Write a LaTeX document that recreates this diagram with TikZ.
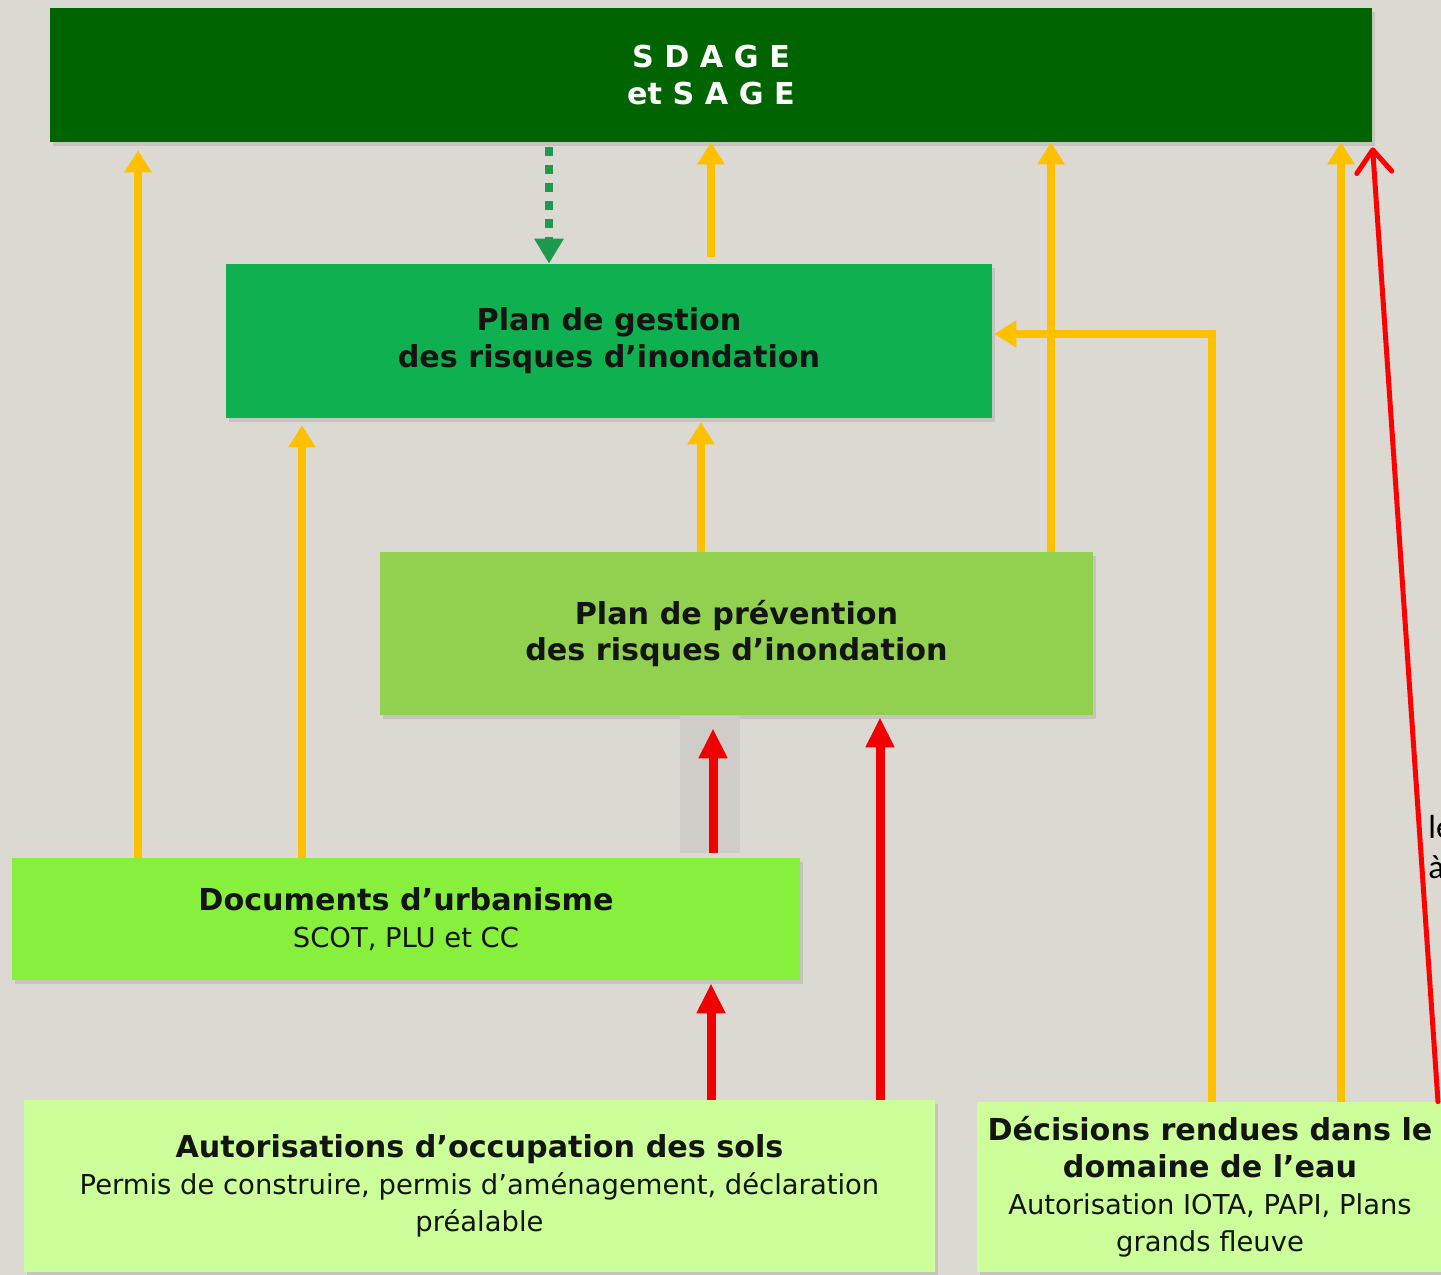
\documentclass[tikz,border=0pt]{standalone}
\usepackage{fontspec}
\setmainfont{DejaVu Sans}
\newfontfamily\calfont{Carlito}
\usetikzlibrary{arrows.meta,shadows}
\definecolor{bg}{HTML}{DCD8D2}
\definecolor{patchgray}{HTML}{D0CDC9}
\definecolor{sdagegreen}{HTML}{006400}
\definecolor{pgrigreen}{HTML}{0FB050}
\definecolor{pprigreen}{HTML}{92D050}
\definecolor{docgreen}{HTML}{86F03C}
\definecolor{lightlime}{HTML}{CCFF99}
\definecolor{arrorange}{HTML}{FFC000}
\definecolor{arrred}{HTML}{F00000}
\definecolor{dashgreen}{HTML}{1E9A4E}
\definecolor{txt}{HTML}{141414}
\begin{document}
\begin{tikzpicture}[x=0.02cm,y=-0.02cm,
  box/.style={rectangle, inner sep=0pt, align=center, text=txt,
    font={\fontsize{17.2}{21}\selectfont},
    drop shadow={opacity=0.22,shadow xshift=1.5pt,shadow yshift=-2pt}},
  oarrow/.style={draw=arrorange, line width=0.16cm, -{Triangle[length=0.44cm,width=0.52cm]}},
  rarrow/.style={draw=arrred, line width=0.18cm, -{Triangle[length=0.6cm,width=0.54cm]}},
  garrow/.style={draw=dashgreen, line width=0.16cm, dash pattern=on 0.18cm off 0.18cm, -{Triangle[length=0.5cm,width=0.56cm]}},
  thinred/.style={draw=red, line width=0.1cm, line cap=round, -{Straight Barb[length=0.45cm,width=0.7cm,round]}}]
\useasboundingbox (0,0) rectangle (1441,1275);
\clip (0,0) rectangle (1441,1275);
\fill[bg] (0,0) rectangle (1441,1275);

% boxes
\node[box, fill=sdagegreen, text=white, minimum width=26.44cm, minimum height=2.68cm,
  font={\fontsize{17.2}{21}\selectfont\bfseries}] (sdage) at (711,75)
  {\addfontfeatures{LetterSpace=35}SDAGE\\et {\addfontfeatures{LetterSpace=35}SAGE}};
\node[box, fill=pgrigreen, minimum width=15.32cm, minimum height=3.08cm] (pgri) at (609,341)
  {\bfseries Plan de gestion\\\bfseries des risques d’inondation};
\node[box, fill=pprigreen, minimum width=14.26cm, minimum height=3.26cm] (ppri) at (736.5,633.5)
  {\bfseries Plan de prévention\\\bfseries des risques d’inondation};
\node[box, fill=docgreen, minimum width=15.76cm, minimum height=2.44cm] (doc) at (406,919)
  {\bfseries Documents d’urbanisme\\{\fontsize{15.6}{21}\selectfont SCOT, PLU et CC}};
\node[box, fill=lightlime, minimum width=18.22cm, minimum height=3.44cm] (aut) at (479.5,1186)
  {\bfseries Autorisations d’occupation des sols\\
   {\fontsize{15.6}{21}\selectfont Permis de construire, permis d’aménagement, déclaration}\\
   {\fontsize{15.6}{21}\selectfont préalable}};
\node[box, fill=lightlime, minimum width=9.32cm, minimum height=3.4cm] (dec) at (1210,1187)
  {\bfseries Décisions rendues dans le\\\bfseries domaine de l’eau\\
   {\fontsize{15.6}{21}\selectfont Autorisation IOTA, PAPI, Plans}\\
   {\fontsize{15.6}{21}\selectfont grands fleuve}};

% grey patch behind a red arrow
\fill[patchgray] (680,716) rectangle (740,853);

% x reference coordinates
\coordinate (c138) at (138,0);
\coordinate (c302) at (302,0);
\coordinate (c549) at (549,0);
\coordinate (c701) at (701,0);
\coordinate (c711) at (711,0);
\coordinate (c713) at (713,0);
\coordinate (c880) at (880,0);
\coordinate (c1051) at (1051,0);
\coordinate (c1341) at (1341,0);
\coordinate (c1438) at (1438,0);
\coordinate (k1) at (1212,334);

% orange arrows
\draw[oarrow, shorten >=0.16cm] (doc.north -| c138) -- (sdage.south -| c138);
\draw[oarrow, shorten >=0.14cm] (doc.north -| c302) -- (pgri.south -| c302);
\draw[oarrow, shorten <=0.14cm] (pgri.north -| c711) -- (sdage.south -| c711);
\draw[oarrow, shorten >=0.08cm] (ppri.north -| c701) -- (pgri.south -| c701);
\draw[oarrow] (ppri.north -| c1051) -- (sdage.south -| c1051);
\draw[oarrow] (dec.north -| c1341) -- (sdage.south -| c1341);
\draw[oarrow, shorten >=0.04cm] (dec.north -| k1) |- (pgri.east |- k1);

% green dashed arrow
\draw[garrow, shorten <=0.1cm] (sdage.south -| c549) -- (pgri.north -| c549);

% red arrows
\draw[rarrow, shorten >=0.26cm, shorten <=0.1cm] (doc.north -| c713) -- (ppri.south -| c713);
\draw[rarrow, shorten >=0.04cm] (aut.north -| c880) -- (ppri.south -| c880);
\draw[rarrow, shorten >=0.06cm] (aut.north -| c711) -- (doc.south -| c711);
\draw[thinred, shorten >=0.1cm] (dec.north -| c1438) -- (sdage.south east);

% clipped text at the right edge
\node[anchor=north west, inner sep=0pt, align=left, text=black,
  font={\calfont\fontsize{19}{23}\selectfont}] (cut) at (1428,815) {le\\à};
\end{tikzpicture}
\end{document}
